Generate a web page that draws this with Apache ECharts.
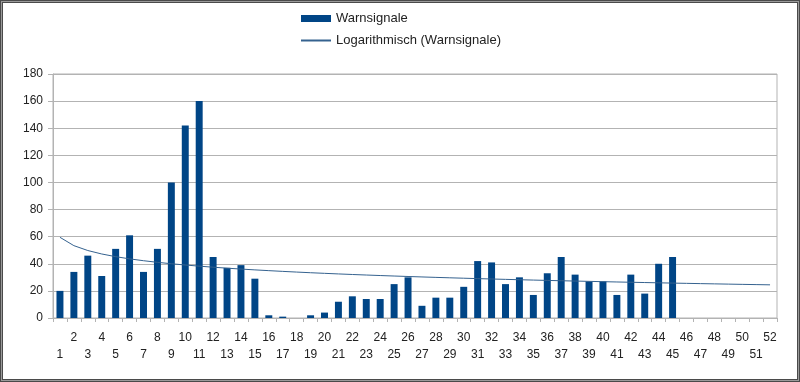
<!DOCTYPE html>
<html>
<head>
<meta charset="utf-8">
<script src="https://cdn.jsdelivr.net/npm/echarts@6/dist/echarts.min.js"></script>
<style>
html,body{margin:0;padding:0;background:#fff;}
#chart{position:absolute;left:0;top:0;width:800px;height:382px;}
#f1{position:absolute;left:0;top:0;width:800px;height:382px;box-sizing:border-box;border:1px solid #4a4a4a;pointer-events:none;}
#f2{position:absolute;left:1px;top:1px;width:798px;height:380px;box-sizing:border-box;border:1px solid #9a9a9a;pointer-events:none;}
#f3{position:absolute;left:2px;top:2px;width:796px;height:378px;box-sizing:border-box;border:1px solid #4a4a4a;pointer-events:none;}
</style>
</head>
<body>
<div id="chart"></div>
<div id="f1"></div><div id="f2"></div><div id="f3"></div>
<script>
// Calendar weeks (category labels)
const weeks = ['1','2','3','4','5','6','7','8','9','10','11','12','13','14','15','16','17','18','19','20',
  '21','22','23','24','25','26','27','28','29','30','31','32','33','34','35','36','37','38','39','40',
  '41','42','43','44','45','46','47','48','49','50','51','52'];
// Warnsignale per week
const warnsignale = [20,34,46,31,51,61,34,51,100,142,160,45,37,39,29,2,1,0,2,4,
  12,16,14,14,25,30,9,15,15,23,42,41,25,30,17,33,45,32,27,27,
  17,32,18,40,45,null,null,null,null,null,null,null];
const yTicks = {min:0, max:180, interval:20};

// Logarithmic trend line: least-squares fit y = a + b*ln(x) over the plotted weeks
const pts = [];
warnsignale.forEach((v,i)=>{ if(v!==null) pts.push([Math.log(i+1), v]); });
const n = pts.length;
const mL = pts.reduce((s,p)=>s+p[0],0)/n;
const mY = pts.reduce((s,p)=>s+p[1],0)/n;
let sxy=0, sxx=0;
pts.forEach(p=>{ sxy += (p[0]-mL)*(p[1]-mY); sxx += (p[0]-mL)*(p[0]-mL); });
const b = sxy/sxx, a = mY - b*mL;
const trend = weeks.map((w,i)=> a + b*Math.log(i+1));

const FONT = '"Liberation Sans", Arial, sans-serif';
const chart = echarts.init(document.getElementById('chart'), null, {renderer:'canvas'});
chart.setOption({
  animation:false,
  backgroundColor:'#ffffff',
  textStyle:{fontFamily:FONT},
  legend:{
    orient:'vertical', left:300, top:12, padding:0, itemWidth:30, itemHeight:7, itemGap:9,
    textStyle:{fontSize:13, color:'#222', fontFamily:FONT},
    data:[{name:'Warnsignale', icon:'rect'},
          {name:'Logarithmisch (Warnsignale)', itemStyle:{opacity:0}}]
  },
  grid:{left:53, right:23, top:74, bottom:64, show:true, borderColor:'#b3b3b3', borderWidth:1},
  xAxis:{
    type:'category', data:weeks, boundaryGap:true,
    axisLine:{show:true, lineStyle:{color:'#b3b3b3'}},
    axisTick:{show:true, interval:0, length:4, lineStyle:{color:'#b3b3b3'}},
    axisLabel:{
      interval:0, hideOverlap:false, margin:11, fontSize:12, lineHeight:17, color:'#222', fontFamily:FONT,
      formatter:(v,i)=> (i%2===0 ? '\n'+v : v)
    },
    splitLine:{show:false}
  },
  yAxis:{
    type:'value', min:yTicks.min, max:yTicks.max, interval:yTicks.interval,
    axisLine:{show:true, lineStyle:{color:'#b3b3b3'}},
    axisTick:{show:true, length:5, lineStyle:{color:'#b3b3b3'}},
    axisLabel:{margin:10, fontSize:12, color:'#222', fontFamily:FONT},
    splitLine:{show:true, lineStyle:{color:'#b3b3b3', width:1}}
  },
  series:[
    {name:'Warnsignale', type:'bar', data:warnsignale, barWidth:'50%', itemStyle:{color:'#004586'}},
    {name:'Logarithmisch (Warnsignale)', type:'line', data:trend, symbol:'none', smooth:false,
     lineStyle:{color:'#35628f', width:1}, itemStyle:{color:'#35628f'}, z:3}
  ]
});
</script>
</body>
</html>
